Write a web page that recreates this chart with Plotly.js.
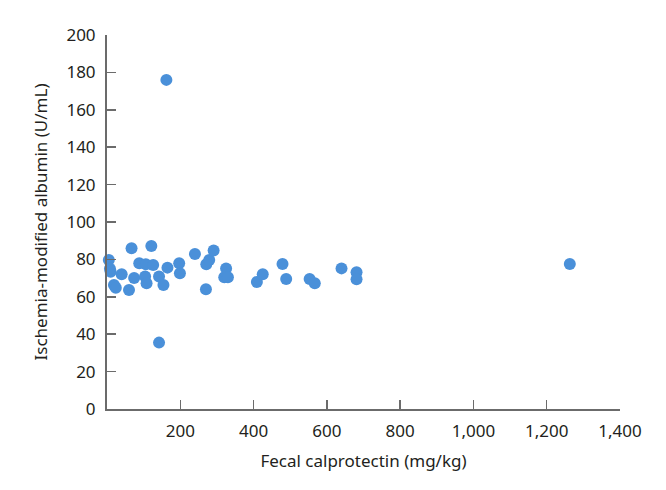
<!DOCTYPE html>
<html>
<head>
<meta charset="utf-8">
<script src="https://cdn.plot.ly/plotly-3.0.1.min.js"></script>
<style>html,body{margin:0;padding:0;background:#fff;}#chart{width:666px;height:490px;}</style>
</head>
<body>
<div id="chart"></div>
<script>
// Fecal calprotectin (mg/kg)
const calprotectin = [5, 10, 8, 19, 24, 40, 60, 67, 74, 88, 104, 106, 108, 121, 126, 142, 142, 154, 162, 165, 197, 199,
  240, 270, 271, 279, 291, 320, 325, 330, 409, 425, 479, 489, 553, 567, 640, 681, 681, 1263];
// Ischemia-modified albumin (U/mL)
const ima = [79.7, 73.4, 75, 66.3, 64.8, 72, 63.6, 86, 70, 78, 70.8, 77.4, 67.2, 87.2, 77, 70.8, 35.5, 66.3, 176, 75.6, 78, 72.6,
  82.9, 64, 77.4, 79.7, 84.7, 70.5, 75.2, 70.5, 67.9, 72, 77.5, 69.5, 69.5, 67.2, 75.2, 73.1, 69.4, 77.5];

const xTicks = [200, 400, 600, 800, 1000, 1200, 1400];
const xTickText = ['200', '400', '600', '800', '1,000', '1,200', '1,400'];
const yTicks = [0, 20, 40, 60, 80, 100, 120, 140, 160, 180, 200];

const font = "'Noto Sans', 'DejaVu Sans', sans-serif";
const axisColor = '#6b6b6b';
const textColor = '#231f20';

Plotly.newPlot('chart', [{
  type: 'scatter',
  mode: 'markers',
  x: calprotectin,
  y: ima,
  marker: {color: '#4a90d9', size: 12},
  cliponaxis: false,
  hoverinfo: 'x+y'
}], {
  width: 666, height: 490,
  margin: {l: 107, r: 46, t: 35, b: 81},
  paper_bgcolor: '#fff', plot_bgcolor: '#fff',
  showlegend: false,
  font: {family: font, size: 17, color: textColor},
  xaxis: {
    range: [0, 1400], tickvals: xTicks, ticktext: xTickText,
    showgrid: false, zeroline: false, showline: true,
    linecolor: axisColor, linewidth: 2,
    ticks: 'inside', ticklen: 9, tickwidth: 1.5, tickcolor: axisColor,
    ticklabelstandoff: 6,
    tickfont: {family: font, size: 17, color: textColor},
    title: {text: 'Fecal calprotectin (mg/kg)', font: {family: font, size: 17, color: textColor}, standoff: 14}
  },
  yaxis: {
    range: [0, 200], tickvals: yTicks,
    showgrid: false, zeroline: false, showline: true,
    linecolor: axisColor, linewidth: 2,
    ticks: 'inside', ticklen: 9, tickwidth: 1.5, tickcolor: axisColor,
    ticklabelstandoff: 6,
    tickfont: {family: font, size: 17, color: textColor},
    title: {text: 'Ischemia-modified albumin (U/mL)', font: {family: font, size: 17, color: textColor}, standoff: 14}
  }
}, {displayModeBar: false, staticPlot: true});
</script>
</body>
</html>
